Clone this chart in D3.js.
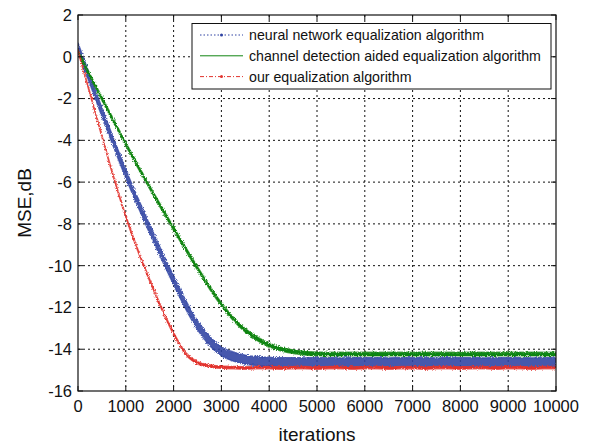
<!DOCTYPE html>
<html>
<head>
<meta charset="utf-8">
<script src="https://cdn.jsdelivr.net/npm/d3@7"></script>
<style>
  body { margin: 0; background: #fff; }
  text { font-family: "Liberation Sans", Arial, Helvetica, sans-serif; fill: #111; }
</style>
</head>
<body>
<script>
// iterations sampled every 250
var iters = d3.range(0, 10001, 250);

// MSE (dB)
var neuralNet = [0.45, -1.1, -2.65, -4.15, -5.6, -6.95, -8.25, -9.5, -10.7, -11.85,
  -12.85, -13.6, -14.1, -14.35, -14.5, -14.57, -14.6, -14.62, -14.62, -14.63,
  -14.62, -14.62, -14.63, -14.62, -14.62, -14.62, -14.63, -14.62, -14.62, -14.62,
  -14.63, -14.62, -14.62, -14.62, -14.63, -14.62, -14.62, -14.62, -14.63, -14.62, -14.62];
var channelAided = [0.25, -0.9, -2.0, -3.1, -4.18, -5.23, -6.25, -7.25, -8.23, -9.19,
  -10.13, -11.03, -11.85, -12.55, -13.1, -13.5, -13.8, -14.0, -14.12, -14.19,
  -14.22, -14.23, -14.23, -14.23, -14.23, -14.23, -14.23, -14.23, -14.23, -14.23,
  -14.23, -14.23, -14.23, -14.23, -14.23, -14.23, -14.23, -14.23, -14.23, -14.23, -14.23];
var ours = [0.3, -1.75, -3.8, -5.8, -7.65, -9.25, -10.7, -12.05, -13.25, -14.2,
  -14.65, -14.8, -14.86, -14.88, -14.9, -14.88, -14.88, -14.9, -14.88, -14.88,
  -14.9, -14.88, -14.88, -14.9, -14.88, -14.88, -14.9, -14.88, -14.88, -14.9,
  -14.88, -14.88, -14.9, -14.88, -14.88, -14.9, -14.88, -14.88, -14.9, -14.88, -14.88];

var seriesNames = ["neural network equalization algorithm",
  "channel detection aided equalization algorithm",
  "our equalization algorithm"];

var xTicks = d3.range(0, 10001, 1000);
var yTicks = d3.range(-16, 3, 2);

var W = 592, H = 445;
var mLeft = 78, mRight = 556, mTop = 15, mBottom = 391;

var svg = d3.select("body").append("svg")
    .attr("width", W)
    .attr("height", H);

var x = d3.scaleLinear().domain([0, 10000]).range([mLeft, mRight]);
var y = d3.scaleLinear().domain([-16, 2]).range([mBottom, mTop]);

// ragged edge filter, makes the bands look like noisy traces
var defs = svg.append("defs");
var filt = defs.append("filter").attr("id", "rough")
    .attr("x", "-5%").attr("y", "-5%").attr("width", "110%").attr("height", "110%");
filt.append("feTurbulence")
    .attr("type", "fractalNoise").attr("baseFrequency", "0.9")
    .attr("numOctaves", 2).attr("seed", 3).attr("result", "noise");
filt.append("feDisplacementMap")
    .attr("in", "SourceGraphic").attr("in2", "noise")
    .attr("scale", 3.5)
    .attr("xChannelSelector", "R").attr("yChannelSelector", "G");

defs.append("clipPath").attr("id", "clip")
  .append("rect").attr("x", mLeft).attr("y", mTop)
  .attr("width", mRight - mLeft).attr("height", mBottom - mTop);

// grid (dotted, matlab style)
var grid = svg.append("g");
grid.selectAll("line.gx")
    .data(xTicks.slice(1, -1))
    .enter().append("line")
    .attr("x1", d => x(d)).attr("x2", d => x(d))
    .attr("y1", mTop).attr("y2", mBottom)
    .attr("stroke", "#111").attr("stroke-width", 1)
    .attr("stroke-dasharray", "2,3");
grid.selectAll("line.gy")
    .data(yTicks.slice(1, -1))
    .enter().append("line")
    .attr("x1", mLeft).attr("x2", mRight)
    .attr("y1", d => y(d)).attr("y2", d => y(d))
    .attr("stroke", "#111").attr("stroke-width", 1)
    .attr("stroke-dasharray", "2,3");

// series drawn as thin noisy bands (half width in dB)
var series = [
  { vals: neuralNet, color: "#2e42a2", half: 0.22, op: 0.88 },
  { vals: channelAided, color: "#118512", half: 0.09, op: 1 },
  { vals: ours, color: "#e2332d", half: 0.06, op: 1 }
];

var plot = svg.append("g").attr("clip-path", "url(#clip)");
series.forEach(function(s) {
  var area = d3.area()
      .x((d, i) => x(iters[i]))
      .y0(d => y(d + s.half))
      .y1(d => y(d - s.half))
      .curve(d3.curveMonotoneX);
  plot.append("path")
      .datum(s.vals)
      .attr("d", area)
      .attr("fill", s.color)
      .attr("fill-opacity", s.op)
      .attr("stroke", s.color)
      .attr("stroke-width", 1.3)
      .attr("stroke-opacity", 0.7)
      .attr("filter", "url(#rough)");
});

// box + inward ticks
svg.append("rect")
    .attr("x", mLeft).attr("y", mTop)
    .attr("width", mRight - mLeft).attr("height", mBottom - mTop)
    .attr("fill", "none").attr("stroke", "#111").attr("stroke-width", 1.2);

var tk = 5;
var ticks = svg.append("g").attr("stroke", "#111").attr("stroke-width", 1);
xTicks.forEach(function(t) {
  ticks.append("line").attr("x1", x(t)).attr("x2", x(t)).attr("y1", mBottom).attr("y2", mBottom - tk);
  ticks.append("line").attr("x1", x(t)).attr("x2", x(t)).attr("y1", mTop).attr("y2", mTop + tk);
});
yTicks.forEach(function(t) {
  ticks.append("line").attr("x1", mLeft).attr("x2", mLeft + tk).attr("y1", y(t)).attr("y2", y(t));
  ticks.append("line").attr("x1", mRight).attr("x2", mRight - tk).attr("y1", y(t)).attr("y2", y(t));
});

// tick labels
svg.append("g").selectAll("text")
    .data(xTicks)
    .enter().append("text")
    .attr("x", d => x(d))
    .attr("y", mBottom + 21)
    .attr("text-anchor", "middle")
    .style("font-size", "16.5px")
    .text(d => d);

svg.append("g").selectAll("text")
    .data(yTicks)
    .enter().append("text")
    .attr("x", mLeft - 6)
    .attr("y", d => y(d))
    .attr("dy", "0.36em")
    .attr("text-anchor", "end")
    .style("font-size", "16.5px")
    .text(d => d);

// axis titles
svg.append("text")
    .attr("x", (mLeft + mRight) / 2)
    .attr("y", 441)
    .attr("text-anchor", "middle")
    .style("font-size", "19px")
    .text("iterations");

svg.append("text")
    .attr("transform", "translate(30.5," + ((mTop + mBottom) / 2) + ") rotate(-90)")
    .attr("text-anchor", "middle")
    .style("font-size", "19px")
    .text("MSE,dB");

// legend
var lg = svg.append("g");
lg.append("rect")
    .attr("x", 192).attr("y", 23.5)
    .attr("width", 359).attr("height", 65.5)
    .attr("fill", "#fff").attr("stroke", "#111").attr("stroke-width", 1);

var legendStyle = [
  { color: "#2e42a2", dash: "1.5,2", marker: true },
  { color: "#118512", dash: null, marker: false },
  { color: "#e2332d", dash: "4,2,1,2", marker: true }
];
seriesNames.forEach(function(name, i) {
  var ly = 35 + i * 20.8;
  lg.append("line")
      .attr("x1", 200).attr("x2", 243)
      .attr("y1", ly).attr("y2", ly)
      .attr("stroke", legendStyle[i].color)
      .attr("stroke-width", 1)
      .attr("stroke-dasharray", legendStyle[i].dash);
  if (legendStyle[i].marker) {
    lg.append("circle")
        .attr("cx", 221.5).attr("cy", ly).attr("r", 1.5)
        .attr("fill", legendStyle[i].color);
  }
  lg.append("text")
      .attr("x", 249).attr("y", ly)
      .attr("dy", "0.35em")
      .style("font-size", "14.2px")
      .text(name);
});
</script>
</body>
</html>
